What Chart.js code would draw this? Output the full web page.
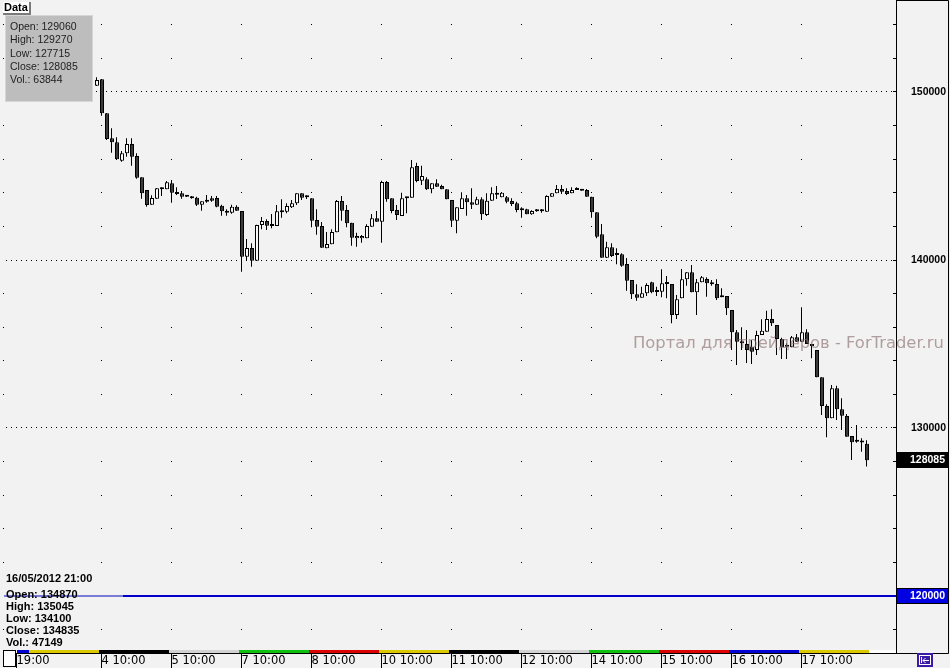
<!DOCTYPE html>
<html><head><meta charset="utf-8">
<script src="https://cdn.jsdelivr.net/npm/chart.js@4.4.0/dist/chart.umd.min.js"></script>
<style>html,body{margin:0;padding:0;background:#f2f2f2;overflow:hidden}canvas{display:block}</style>
</head><body>
<canvas id="c" width="950" height="668"></canvas>
<script>
// ---- data (hourly candles, index 0 = "4 10:00") ----
const firstIndex = -1;
const openP = [150375,150755,148730,147245,147005,145910,146350,146905,146190,144925,144165,143290,143650,144210,144210,144565,144050,143970,143790,143770,143710,143290,143590,143675,143690,143230,142935,142815,143175,142915,140195,140715,139960,142085,142320,142025,142025,142840,142875,143135,143375,143970,143740,143675,142380,142025,140695,140935,141650,143510,142975,142220,141290,141290,141290,141980,142480,142280,144645,143675,142975,142620,143675,143710,145595,144720,144805,144210,144565,144405,144210,143570,142340,143035,143675,143435,143290,143615,142680,143530,143970,143730,143730,143510,143375,143035,143020,142720,142900,142900,142875,143770,143970,144225,144110,143970,144210,144210,144165,143770,142840,141530,140135,140755,140340,140340,139760,138810,137960,137755,138020,138675,138115,138115,138615,138570,136725,137720,138850,139270,138080,138675,138870,138650,138570,137860,137860,137025,135695,135040,135000,134840,134645,135535,135735,136490,136130,135300,134870,134805,135400,135135,135695,135000,134645,133020,131310,130580,132365,131115,130715,129525,129180,129160,129060];
const highP = [150875,150775,148750,147840,147305,146490,147245,147245,146350,144925,144165,143850,144285,144330,144705,144760,144330,144110,143850,143810,143770,143495,143870,143810,143810,143290,143020,143290,143265,142915,141250,140995,142100,142560,142425,142740,143275,143615,143375,143570,143970,143970,143850,143675,143020,142260,141665,141830,143570,143810,143275,142220,141625,141490,142125,142740,142915,144720,144705,143675,143275,144005,143770,145955,145790,145615,144925,144565,144805,144480,144210,143570,143135,144030,143870,144270,143770,143730,143970,144330,144405,144050,143810,143675,143470,143135,143055,142960,143035,143035,143850,143970,144465,144465,144270,144330,144330,144210,144225,143770,142840,142145,141090,140995,140695,140400,140120,138810,138555,138410,138615,138710,138410,139445,139050,138570,137915,139465,139270,139705,138870,139050,138970,138810,138850,138315,137860,137025,135835,135995,135835,135240,135790,136470,136985,137065,136130,135375,135045,135475,135595,137185,135875,135000,134645,133020,131410,132560,132520,131770,130835,129525,130180,129390,129270];
const lowP = [150355,148590,147145,146385,145955,145850,146150,145615,144840,143650,143175,143290,143650,143810,144210,143410,143870,143650,143750,143650,143215,142935,143410,143470,143135,142635,142635,142755,142935,139305,139940,139600,139960,141830,141785,141885,142025,142520,142780,143095,143275,143570,143630,141945,141505,140730,140695,140935,141650,142340,141945,140850,140790,141030,141290,141980,142280,141030,143470,142780,142380,142620,142780,143710,144625,144465,144165,143970,144345,144210,143615,141980,141590,143035,142635,143035,143290,142380,142620,143530,143630,143730,143375,143215,142840,142520,142720,142695,142875,142815,142875,143770,143970,143930,143870,143970,144165,144125,143770,142520,141290,140135,140120,140180,139745,139600,138175,137680,137580,137755,137860,138020,137860,137780,137720,136235,136490,137720,138470,138080,136725,138675,137815,138470,137620,137780,136725,134645,133750,134645,133870,133810,134345,135535,135735,136070,134345,134110,134100,134805,135135,135135,135000,134150,133020,130775,129445,130580,130475,129880,129485,128095,129125,128590,127715];
const closeP = [150715,148730,147205,147005,145995,146350,146905,146150,144900,143970,143275,143690,144270,144305,144625,144005,143930,143770,143770,143670,143290,143495,143470,143530,143175,142900,142815,143175,142935,140195,140715,139960,142085,142320,142040,142045,142900,142900,143215,143375,143970,143710,143770,142340,141980,140730,140955,141665,143510,142935,142185,141330,141430,141430,142025,142480,142280,144645,143615,142915,142680,143675,143730,145520,144705,145000,144210,144565,144365,144210,143615,142340,143135,143675,143435,143290,143615,142720,143530,143970,143885,144005,143470,143335,142975,142960,142720,142915,142920,142920,143810,143970,144225,144065,143930,144165,144165,144125,143770,142840,141385,140135,140755,140240,140300,139660,138770,137960,137755,138020,138510,138080,138095,138615,138570,136725,137660,138850,139270,138080,138675,138970,138615,138555,137720,137780,137125,135695,135135,135120,134645,134540,135535,135790,136490,136235,135300,134805,134835,135400,135135,135695,135000,134880,133020,131310,130580,132365,131115,130735,129485,129150,129200,129140,128085];

const dayTickIndex = [-17,0,14,28,42,56,70,84,98,112,126,140];
const dayTickLabels = ['19:00','4 10:00','5 10:00','7 10:00','8 10:00','10 10:00','11 10:00','12 10:00','14 10:00','15 10:00','16 10:00','17 10:00'];
const dayStripEdges = [-16.9,-14.5,-0.5,13.5,27.5,41.5,55.5,69.5,83.5,97.5,111.5,125.5,139.5,153.5,158.9];
const dayStripColors = ['#0000d2','#dcc800','#000000','#d2d2d2','#10c010','#dc0000','#dcc800','#000000','#d2d2d2','#10c010','#dc0000','#0000d2','#dcc800','#ffffff'];
const priceTicks = [118000,120000,122000,124000,126000,128000,130000,132000,134000,136000,138000,140000,142000,144000,146000,148000,150000,152000,154000];
const lastPrice = 128085;
const levelPrice = 120000;
const dataWindowTitle = 'Data';
const dataWindowLines = ['Open: 129060','High: 129270','Low: 127715','Close: 128085','Vol.: 63844'];
const cursorTime = '16/05/2012 21:00';
const cursorLines = ['Open: 134870','High: 135045','Low: 134100','Close: 134835','Vol.: 47149'];
const watermark = 'Портал для трейдеров - ForTrader.ru';

// ---- build datasets ----
const idx = openP.map((_, k) => firstIndex + k);
const wickData = idx.map((x, k) => ({x, y: [lowP[k], highP[k]]}));
const bodyData = idx.map((x, k) => ({x, y: [openP[k], closeP[k]]}));
const bodyFill = idx.map((_, k) => closeP[k] >= openP[k] ? '#f8f8f8' : '#3a3a3a');

const BG = '#f2f2f2';
const bgPlugin = {
  id: 'bg',
  beforeDraw(chart) {
    const c = chart.ctx; c.save(); c.fillStyle = BG; c.fillRect(0, 0, chart.width, chart.height); c.restore();
  }
};
const gridPlugin = {
  id: 'gridDots',
  beforeDatasetsDraw(chart) {
    const {ctx, chartArea: a, scales: {x, y}} = chart;
    ctx.save(); ctx.fillStyle = '#000';
    const x0 = Math.floor(x.getPixelForValue(0));
    for (const v of priceTicks) {
      const py = Math.floor(y.getPixelForValue(v));
      if (v % 10000 === 0) {
        let px = x0 - 5 * Math.floor((x0 - a.left) / 5);
        for (; px < a.right - 1; px += 5) ctx.fillRect(px, py, 1, 1);
      } else {
        for (const t of dayTickIndex) if (t >= 0) ctx.fillRect(Math.floor(x.getPixelForValue(t)), py, 1, 1);
        ctx.fillRect(a.left - 1, py, 1, 1);
      }
      ctx.fillRect(a.right - 3, py, 3, 1);
    }
    // day colour strip
    const sy = a.bottom - 3;
    for (let k = 0; k < dayStripColors.length; k++) {
      const xa = Math.round(x.getPixelForValue(dayStripEdges[k]));
      const xb = Math.round(x.getPixelForValue(dayStripEdges[k + 1]));
      ctx.fillStyle = dayStripColors[k];
      ctx.fillRect(xa, sy, xb - xa, 3);
    }
    ctx.restore();
  }
};
const bodyShift = {
  id: 'bodyShift',
  beforeDatasetDraw(chart, args) { if (args.index === 1) { chart.ctx.save(); chart.ctx.translate(0.5, 0); } },
  afterDatasetDraw(chart, args) { if (args.index === 1) chart.ctx.restore(); }
};
const overlayPlugin = {
  id: 'overlay',
  afterDatasetsDraw(chart) {
    const {ctx, chartArea: a, scales: {y}} = chart;
    ctx.save();
    // horizontal level line
    const ly = Math.round(y.getPixelForValue(levelPrice)) - 1;
    ctx.fillStyle = '#0000c8'; ctx.fillRect(a.left, ly, a.right - a.left, 2);
    ctx.fillStyle = '#7b7bd8'; ctx.fillRect(a.left, ly, 123 - a.left, 2);
    // watermark
    ctx.font = '15px "DejaVu Sans"';
    const w = ctx.measureText(watermark).width;
    const fs = 15 * 311 / w;
    ctx.font = fs.toFixed(2) + 'px "DejaVu Sans"';
    ctx.fillStyle = 'rgba(140,110,110,0.65)';
    ctx.textBaseline = 'middle'; ctx.textAlign = 'left';
    ctx.fillText(watermark, 633, 344);
    ctx.restore();
  },
  afterDraw(chart) {
    const {ctx, chartArea: a, scales: {y}} = chart;
    ctx.save();
    // right panel frame
    ctx.strokeStyle = '#000'; ctx.lineWidth = 1;
    ctx.beginPath();
    ctx.moveTo(a.right + 0.5, 0.5); ctx.lineTo(948.5, 0.5); ctx.lineTo(948.5, a.bottom + 0.5); ctx.lineTo(a.right, a.bottom + 0.5);
    ctx.stroke();
    // price boxes
    const box = (price, fill, textCol) => {
      const py = Math.round(y.getPixelForValue(price));
      ctx.fillStyle = fill; ctx.fillRect(a.right + 1, py - 7, 948 - a.right - 1, 14);
      ctx.strokeStyle = '#000'; ctx.strokeRect(a.right + 0.5, py - 7.5, 948 - a.right, 15);
      ctx.fillStyle = textCol; ctx.font = 'bold 10.5px "Liberation Sans"';
      ctx.textAlign = 'right'; ctx.textBaseline = 'middle';
      ctx.fillText(String(price), 945, py + 0.5);
    };
    box(lastPrice, '#000000', '#ffffff');
    box(levelPrice, '#0000e0', '#ffffff');
    // data window
    ctx.fillStyle = '#ffffff'; ctx.fillRect(3, 2, 27, 12);
    ctx.fillStyle = '#7a7a7a'; ctx.fillRect(29, 2, 2, 13); ctx.fillRect(3, 13, 28, 2);
    ctx.fillStyle = '#000'; ctx.font = 'bold 11px "Liberation Sans"'; ctx.textAlign = 'left'; ctx.textBaseline = 'middle';
    ctx.fillText(dataWindowTitle, 4, 8);
    ctx.fillStyle = '#bdbdbd'; ctx.fillRect(5, 15, 88, 87);
    ctx.strokeStyle = '#d6d6d6'; ctx.strokeRect(5.5, 15.5, 87, 86);
    ctx.fillStyle = '#1e1e1e'; ctx.font = '10.5px "Liberation Sans"';
    dataWindowLines.forEach((t, k) => ctx.fillText(t, 10, 27.5 + k * 13.1));
    // cursor info
    ctx.fillStyle = '#000'; ctx.font = 'bold 11px "Liberation Sans"';
    ctx.fillText(cursorTime, 6, 579);
    cursorLines.forEach((t, k) => ctx.fillText(t, 6, 595 + k * 12.1));
    // left scroll box
    ctx.fillStyle = '#ffffff'; ctx.fillRect(3, 650, 13, 17);
    ctx.strokeStyle = '#000'; ctx.strokeRect(3.5, 650.5, 12, 16);
    // bottom-right button
    ctx.fillStyle = '#3a1aa8'; ctx.fillRect(917, 653, 16, 14);
    ctx.strokeStyle = '#ffffff'; ctx.strokeRect(919.5, 655.5, 11, 9);
    ctx.beginPath(); ctx.moveTo(921.5, 657); ctx.lineTo(921.5, 663);
    ctx.moveTo(923, 660.5); ctx.lineTo(929, 660.5);
    ctx.moveTo(925.5, 658); ctx.lineTo(923, 660.5); ctx.lineTo(925.5, 663);
    ctx.stroke();
    ctx.restore();
  }
};

const yMin = 150000 - (653 - 92) * 10000 / 168;
const yMax = 150000 + 92 * 10000 / 168;

new Chart(document.getElementById('c').getContext('2d'), {
  type: 'bar',
  data: {
    datasets: [
      {data: wickData, backgroundColor: '#000', borderWidth: 0, barThickness: 1, grouped: false, order: 2, inflateAmount: 0},
      {data: bodyData, backgroundColor: bodyFill, borderColor: '#000', borderWidth: 1, borderSkipped: false,
       barThickness: 4, grouped: false, order: 1, minBarLength: 2, inflateAmount: 0}
    ]
  },
  options: {
    responsive: false, animation: false, devicePixelRatio: 1, events: [],
    layout: {padding: {left: 4, right: 0, top: 0, bottom: 0}},
    plugins: {legend: {display: false}, tooltip: {enabled: false}},
    scales: {
      x: {
        type: 'linear', min: -19.5, max: 158.9, offset: false,
        grid: {display: true, drawOnChartArea: false, drawTicks: true, tickLength: 15, tickColor: '#000', offset: false},
        border: {display: true, color: '#000', width: 1},
        ticks: {autoSkip: false, maxRotation: 0, minRotation: 0, align: 'start', padding: -14, color: '#000',
                font: {family: '"DejaVu Sans"', size: 11.5},
                callback: (v, i) => dayTickLabels[i]},
        afterBuildTicks: s => { s.ticks = dayTickIndex.map(v => ({value: v})); },
        afterFit: s => { s.height = 15; s.paddingLeft = 0; s.paddingRight = 0; }
      },
      y: {
        type: 'linear', position: 'right', min: yMin, max: yMax,
        grid: {display: false, drawTicks: false},
        border: {display: true, color: '#000', width: 1},
        ticks: {padding: 15, color: '#000', crossAlign: 'near',
                font: {family: '"Liberation Sans"', size: 10.5, weight: 'bold'},
                callback: v => (v % 10000 === 0 ? String(v) : '')},
        afterBuildTicks: s => { s.ticks = priceTicks.map(v => ({value: v})); },
        afterFit: s => { s.width = 54; s.paddingTop = 0; s.paddingBottom = 0; }
      }
    }
  },
  plugins: [bgPlugin, gridPlugin, bodyShift, overlayPlugin]
});
</script>
</body></html>
